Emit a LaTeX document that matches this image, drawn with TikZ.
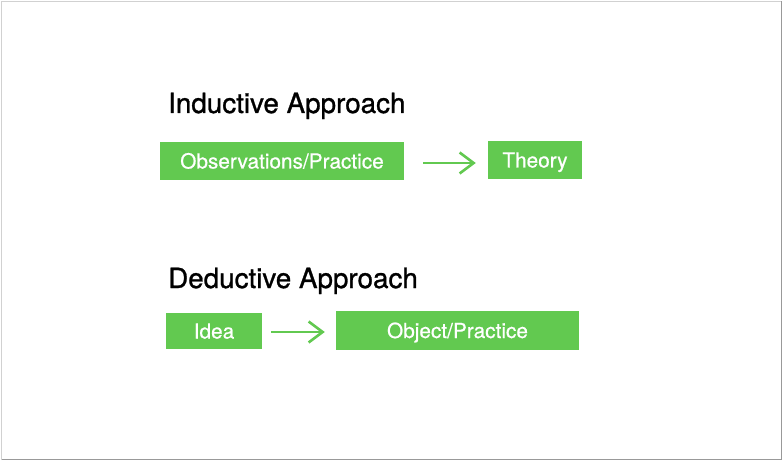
\documentclass[tikz,border=0pt]{standalone}
\usepackage{fontspec}
\setmainfont{TeX Gyre Heros}
\newfontfamily\medfont{TeX Gyre Heros}[FakeBold=1.0]
\newfontfamily\boxfont{TeX Gyre Heros}[FakeBold=0.6]
\usetikzlibrary{arrows.meta}
\definecolor{boxgreen}{RGB}{98,201,80}
\tikzset{
  gbox/.style={fill=boxgreen, text=white, font=\boxfont\fontsize{20.8}{24}\selectfont, inner sep=0pt, anchor=center, text height=15pt, text depth=0pt},
  title/.style={anchor=base west, inner sep=0pt, font=\medfont\fontsize{27.8}{30}\selectfont},
  garrow/.style={draw=boxgreen, line width=2.4pt, -{Straight Barb[length=14pt, width=21pt, line width=2.6pt]}}
}
\begin{document}
\begin{tikzpicture}[x=1pt, y=-1pt]
\useasboundingbox (0,0) rectangle (784,462);
\fill[white] (0,0) rectangle (784,462);
\draw[black!18, line width=1pt] (1.5,460) -- (1.5,1.5) -- (782,1.5);
\draw[black!40, line width=1.6pt] (781.5,1.5) -- (781.5,459.5) -- (1.5,459.5);
\node[title] (ind) at (168,113) {Inductive Approach};
\node[title] (ded) at (168,288) {Deductive Approach};
\node[gbox, minimum width=244pt, minimum height=38pt] (obs) at (282,161) {Observations/Practice};
\node[gbox, minimum width=94pt, minimum height=38pt] (theory) at (535,160) {Theory};
\node[gbox, minimum width=96pt, minimum height=36pt] (idea) at (214,331) {Idea};
\node[gbox, minimum width=243pt, minimum height=39pt] (obj) at (457.5,330.5) {Object/Practice};
\draw[garrow, shorten <=19pt, shorten >=12pt] ([yshift=-2pt]obs.east) -- ([yshift=-2pt]obs.east -| theory.west);
\draw[garrow, shorten <=9pt, shorten >=11pt] ([yshift=-1pt]idea.east) -- ([yshift=-1pt]idea.east -| obj.west);
\end{tikzpicture}
\end{document}
